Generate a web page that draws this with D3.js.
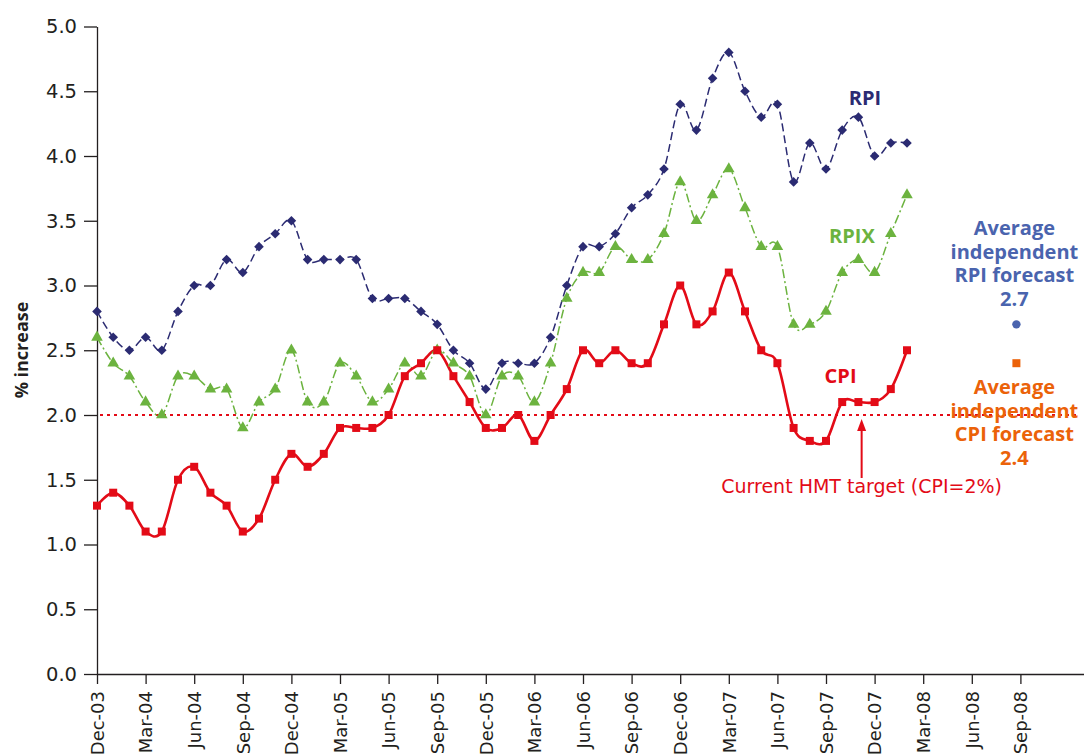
<!DOCTYPE html>
<html>
<head>
<meta charset="utf-8">
<script src="https://cdn.jsdelivr.net/npm/d3@7/dist/d3.min.js"></script>
<style>
  body { margin: 0; background: #fff; }
  svg { display: block; font-family: "Open Sans", "Noto Sans", sans-serif; }
</style>
</head>
<body>
<div id="graph"></div>
<script>
// monthly figures, Dec-03 .. Feb-08
const tickLabels = ["Dec-03","Mar-04","Jun-04","Sep-04","Dec-04","Mar-05","Jun-05","Sep-05","Dec-05","Mar-06",
  "Jun-06","Sep-06","Dec-06","Mar-07","Jun-07","Sep-07","Dec-07","Mar-08","Jun-08","Sep-08"];

const rpi = [2.8,2.6,2.5,2.6,2.5,2.8,3.0,3.0,3.2,3.1,3.3,3.4,
  3.5,3.2,3.2,3.2,3.2,2.9,2.9,2.9,2.8,2.7,2.5,2.4,
  2.2,2.4,2.4,2.4,2.6,3.0,3.3,3.3,3.4,3.6,3.7,3.9,
  4.4,4.2,4.6,4.8,4.5,4.3,4.4,3.8,4.1,3.9,4.2,4.3,
  4.0,4.1,4.1];
const rpix = [2.6,2.4,2.3,2.1,2.0,2.3,2.3,2.2,2.2,1.9,2.1,2.2,
  2.5,2.1,2.1,2.4,2.3,2.1,2.2,2.4,2.3,2.5,2.4,2.3,
  2.0,2.3,2.3,2.1,2.4,2.9,3.1,3.1,3.3,3.2,3.2,3.4,
  3.8,3.5,3.7,3.9,3.6,3.3,3.3,2.7,2.7,2.8,3.1,3.2,
  3.1,3.4,3.7];
const cpi = [1.3,1.4,1.3,1.1,1.1,1.5,1.6,1.4,1.3,1.1,1.2,1.5,
  1.7,1.6,1.7,1.9,1.9,1.9,2.0,2.3,2.4,2.5,2.3,2.1,
  1.9,1.9,2.0,1.8,2.0,2.2,2.5,2.4,2.5,2.4,2.4,2.7,
  3.0,2.7,2.8,3.1,2.8,2.5,2.4,1.9,1.8,1.8,2.1,2.1,
  2.1,2.2,2.5];

const target = 2.0;
const forecastMonth = 57; // Sep-08
const rpiForecast = 2.7;
const cpiForecast = 2.4;

const fullwidth = 1084;
const fullheight = 756;
const tickFont = "'DejaVu Sans', sans-serif";

const navy = "#2b2b72", green = "#6cb33f", red = "#e30b17", blue = "#4a64ae", orange = "#eb6209";

var svg = d3.select("#graph").append("svg")
  .attr("width", fullwidth)
  .attr("height", fullheight);

var x = d3.scaleLinear().domain([0, 61]).range([97, 97 + 61 * 16.2]);
var y = d3.scaleLinear().domain([0, 5]).range([674, 26.5]);

// y axis
var yAxis = svg.append("g")
  .attr("transform", "translate(" + x(0) + ",0)")
  .call(d3.axisLeft(y).tickValues(d3.range(0, 5.01, 0.5)).tickFormat(d3.format(".1f")).tickSize(13).tickPadding(7).tickSizeOuter(0));
yAxis.selectAll("text").style("font-family", tickFont).style("font-size", "19.5px").style("fill", "#231f20");
yAxis.selectAll("line, path").style("stroke", "#231f20").style("stroke-width", 1.3);

// x axis
var xAxis = svg.append("g")
  .attr("transform", "translate(0," + y(0) + ")")
  .call(d3.axisBottom(x).tickValues(d3.range(0, 58, 3)).tickFormat((d, i) => tickLabels[i]).tickSize(10).tickSizeOuter(0));
xAxis.selectAll("text")
  .attr("transform", "rotate(-90)")
  .attr("text-anchor", "end")
  .attr("x", -17)
  .attr("y", 0)
  .attr("dy", "0.35em")
  .style("font-family", tickFont)
  .style("font-size", "18px")
  .style("fill", "#231f20");
xAxis.selectAll("line, path").style("stroke", "#231f20").style("stroke-width", 1.3);

svg.append("text")
  .attr("transform", "translate(22,350) rotate(-90)")
  .attr("text-anchor", "middle")
  .attr("dy", "0.35em")
  .style("font-size", "18px")
  .style("font-weight", "bold")
  .style("fill", "#231f20")
  .text("% increase");

// target line
svg.append("line")
  .attr("x1", x(0) + 3).attr("x2", 1080)
  .attr("y1", y(target)).attr("y2", y(target))
  .style("stroke", red)
  .style("stroke-width", 2)
  .style("stroke-dasharray", "3,4");

var line = d3.line()
  .x((d, i) => x(i))
  .y(d => y(d))
  .curve(d3.curveCardinal.tension(0));

svg.append("path").datum(rpix)
  .attr("d", line)
  .attr("fill", "none")
  .style("stroke", green).style("stroke-width", 1.5)
  .style("stroke-dasharray", "9,3,2,3");

svg.append("path").datum(rpi)
  .attr("d", line)
  .attr("fill", "none")
  .style("stroke", navy).style("stroke-width", 1.5)
  .style("stroke-dasharray", "8,4");

svg.append("path").datum(cpi)
  .attr("d", line)
  .attr("fill", "none")
  .style("stroke", red).style("stroke-width", 2.6);

// markers
svg.selectAll(".rpix").data(rpix).enter().append("path")
  .attr("class", "rpix")
  .attr("d", d3.symbol(d3.symbolTriangle, 58))
  .attr("transform", (d, i) => "translate(" + x(i) + "," + y(d) + ")")
  .style("fill", green);

svg.selectAll(".rpi").data(rpi).enter().append("path")
  .attr("class", "rpi")
  .attr("d", d3.symbol(d3.symbolSquare, 46))
  .attr("transform", (d, i) => "translate(" + x(i) + "," + y(d) + ") rotate(45)")
  .style("fill", navy);

svg.selectAll(".cpi").data(cpi).enter().append("path")
  .attr("class", "cpi")
  .attr("d", d3.symbol(d3.symbolSquare, 64))
  .attr("transform", (d, i) => "translate(" + x(i) + "," + y(d) + ")")
  .style("fill", red);

// series labels
function label(txt, cx, cy, col) {
  svg.append("text")
    .attr("x", cx).attr("y", cy)
    .attr("text-anchor", "middle")
    .style("font-size", "20px")
    .style("font-weight", "bold")
    .style("fill", col)
    .text(txt);
}
label("RPI", x(47.4), 105, navy);
label("RPIX", x(46.6), 243, green);
label("CPI", x(45.9), 383, red);

// forecasts
svg.append("circle")
  .attr("cx", x(forecastMonth) - 4).attr("cy", y(rpiForecast))
  .attr("r", 4.2)
  .style("fill", blue);
svg.append("rect")
  .attr("x", x(forecastMonth) - 8).attr("y", y(cpiForecast) - 4)
  .attr("width", 8).attr("height", 8)
  .style("fill", orange);

function block(lines, cx, top, col) {
  var t = svg.append("text")
    .attr("text-anchor", "middle")
    .style("font-size", "20px")
    .style("font-weight", "bold")
    .style("fill", col);
  lines.forEach(function (s, k) {
    t.append("tspan").attr("x", cx).attr("y", top + k * 23.7).text(s);
  });
}
block(["Average", "independent", "RPI forecast", rpiForecast.toFixed(1)], x(forecastMonth) - 6, 235, blue);
block(["Average", "independent", "CPI forecast", cpiForecast.toFixed(1)], x(forecastMonth) - 6, 394, orange);

// HMT annotation
var ax = x(47.2);
svg.append("line")
  .attr("x1", ax).attr("x2", ax)
  .attr("y1", 478).attr("y2", 430)
  .style("stroke", red).style("stroke-width", 2);
svg.append("path")
  .attr("d", "M" + ax + "," + (y(target) + 4) + "l-4.5,12h9z")
  .style("fill", red);
svg.append("text")
  .attr("x", ax).attr("y", 493)
  .attr("text-anchor", "middle")
  .style("font-family", tickFont)
  .style("font-size", "19px")
  .style("fill", red)
  .text("Current HMT target (CPI=2%)");
</script>
</body>
</html>
